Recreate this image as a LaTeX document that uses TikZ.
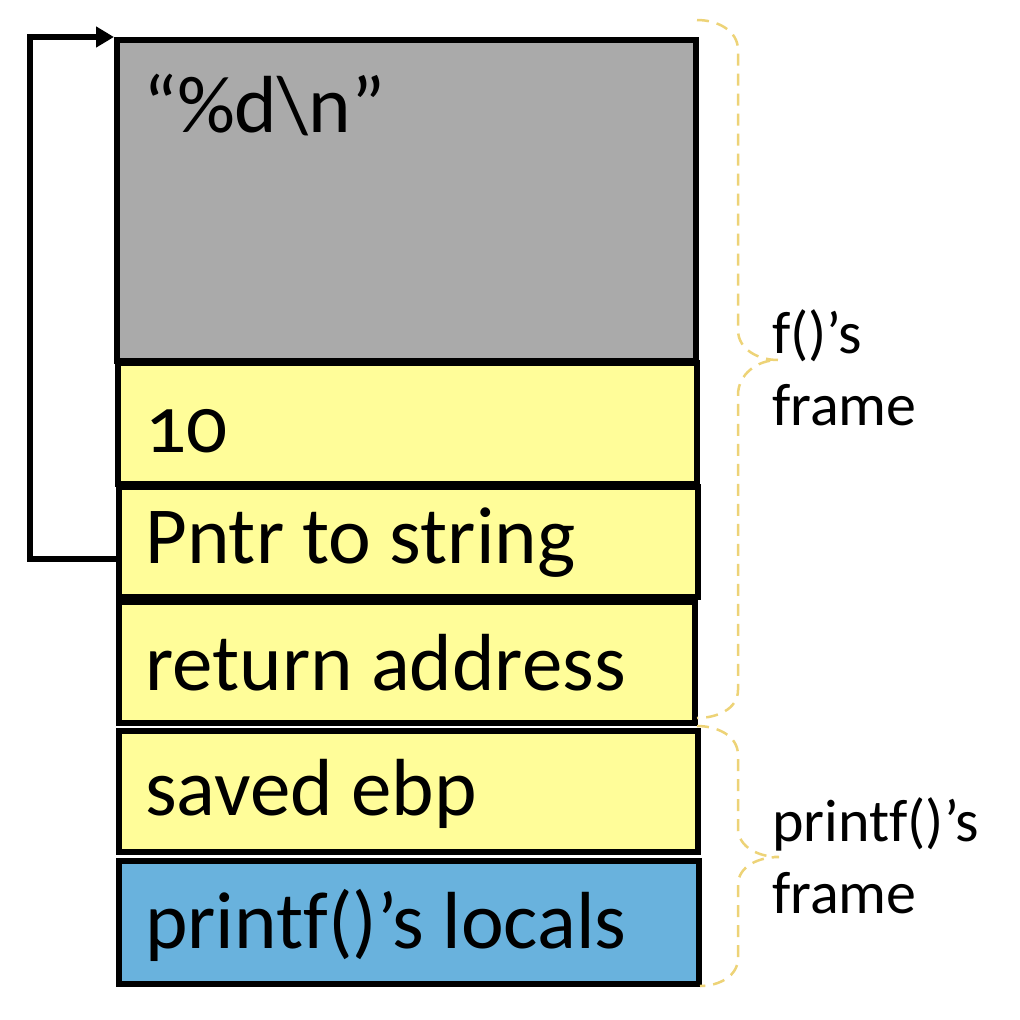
\documentclass[tikz,border=0pt]{standalone}
\usepackage{fontspec}
\setmainfont[Ligatures=NoCommon]{Carlito}
\newfontfamily\slotfont[Ligatures=NoCommon, Numbers=OldStyle]{Carlito}
\usepackage{tikz}
\usetikzlibrary{arrows.meta, positioning}
\definecolor{fmtgray}{HTML}{AAAAAA}
\definecolor{slotyellow}{HTML}{FFFD99}
\definecolor{localblue}{HTML}{69B2DD}
\definecolor{bracegold}{HTML}{EDD377}
\tikzset{
x=1pt, y=-1pt, % pixel-like units, y grows downwards
slot/.style={draw, line width=6pt, inner sep=0pt, minimum width=579pt, fill=slotyellow}, % one stack slot
slot text/.style={anchor=base west, inner sep=0pt, font=\slotfont\fontsize{81}{90}\selectfont},
frame label/.style={anchor=base west, inner sep=0pt, align=left, font=\fontsize{60}{72}\selectfont},
frame brace/.style={draw=bracegold, line width=2.5pt, dash pattern=on 12pt off 8pt},
pointer/.style={line width=6pt, -{Triangle[length=18pt, width=20pt]}},
}
\begin{document}
\begin{tikzpicture}
        \useasboundingbox (0,0) rectangle (1020,1020);

        \node[slot, fill=fmtgray, minimum height=321pt] (fmt) at (406.5,200.5) {};
        \node[slot, minimum height=121pt] (ten) at (407.5,423.5) {};
        \node[slot, minimum height=110pt] (ptr) at (408.5,542) {};
        \node[slot, minimum width=576pt, minimum height=121pt] (ret) at (407,662.5) {};
        \node[slot, minimum height=121pt] (ebp) at (408,791.5) {};
        \node[slot, fill=localblue, minimum width=580pt, minimum height=123pt] (loc) at (409,922.5) {};

        \node[slot text] (fmttext) at (143,132) {“\%d\textbackslash n”};
        \node[slot text] (tentext) at (145,452) {10};
        \node[slot text] (ptrtext) at (145,563) {Pntr to string};
        \node[slot text] (rettext) at (145,690) {return address};
        \node[slot text] (ebptext) at (145,815) {saved ebp};
        \node[slot text] (loctext) at (145,948) {printf()’s locals};

        \node[frame label] (fframe) at (772,425) {f()’s\\frame};
        \node[frame label] (pframe) at (772,913) {printf()’s\\frame};

        % pointer from the argument back up to the format string
        \draw[pointer] ([yshift=-17pt]ptr.west) -- ++(-86,0) |- (fmt.north west);

        % frame braces
        \draw[frame brace] (697,20) to[out=0, in=90] (738,50) -- (738,330)
          to[out=-90, in=180] (778,360) to[out=180, in=90] (738,395)
          -- (738,690) to[out=-90, in=0] (697,718);
        \draw[frame brace] (697,726) to[out=0, in=90] (738,755) -- (738,828)
          to[out=-90, in=180] (779,857) to[out=180, in=90] (738,885)
          -- (738,958) to[out=-90, in=0] (700,986);
      \end{tikzpicture}
\end{document}
